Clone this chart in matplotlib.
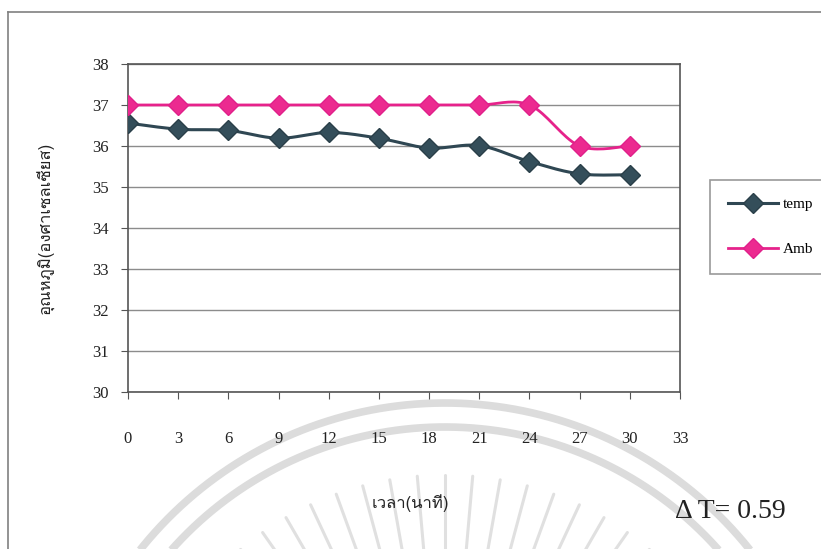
import numpy as np
import matplotlib
matplotlib.use("Agg")
import matplotlib.pyplot as plt
from matplotlib import font_manager
from matplotlib.lines import Line2D

minutes = [0, 3, 6, 9, 12, 15, 18, 21, 24, 27, 30]
temp = [36.56, 36.41, 36.38, 36.19, 36.33, 36.19, 35.95, 36.01, 35.62, 35.32, 35.30]
amb = [37.0, 37.0, 37.0, 37.0, 37.0, 37.0, 37.0, 37.0, 37.0, 36.0, 36.0]
x_ticks = list(range(0, 34, 3))
y_ticks = list(range(30, 39))
delta_t = 0.59

SERIF = "Liberation Serif"

# find something that can render Thai
thai_font = None
for f in font_manager.fontManager.ttflist:
    if "Thai" in f.name or "Loma" in f.name or "Garuda" in f.name or "Sarabun" in f.name:
        thai_font = f.name
        break
thai_family = [thai_font, SERIF] if thai_font else [SERIF, "DejaVu Sans"]


def smooth(xs, ys, n=20):
    # bezier smoothing like a spreadsheet "smoothed line"
    xs = np.asarray(xs, float)
    ys = np.asarray(ys, float)
    px = np.concatenate([[xs[0]], xs, [xs[-1]]])
    py = np.concatenate([[ys[0]], ys, [ys[-1]]])
    outx, outy = [], []
    t = np.linspace(0, 1, n)
    for i in range(1, len(px) - 2):
        p0 = np.array([px[i], py[i]])
        p3 = np.array([px[i + 1], py[i + 1]])
        c1 = p0 + (np.array([px[i + 1], py[i + 1]]) - np.array([px[i - 1], py[i - 1]])) / 6
        c2 = p3 - (np.array([px[i + 2], py[i + 2]]) - np.array([px[i], py[i]])) / 6
        b = ((1 - t) ** 3)[:, None] * p0 + (3 * (1 - t) ** 2 * t)[:, None] * c1 \
            + (3 * (1 - t) * t ** 2)[:, None] * c2 + (t ** 3)[:, None] * p3
        outx.extend(b[:, 0])
        outy.extend(b[:, 1])
    return outx, outy


W, H = 821, 549
fig = plt.figure(figsize=(W / 100, H / 100), dpi=100)
fig.patch.set_facecolor("white")

# faint seal in the background
wm = fig.add_axes([0, 0, 1, 1], zorder=0)
wm.set_xlim(0, W)
wm.set_ylim(H, 0)
wm.axis("off")
cx, cy = 445, 793
th = np.linspace(np.pi * 0.95, np.pi * 2.05, 300)
for r in (390, 366):
    wm.plot(cx + r * np.cos(th), cy + r * np.sin(th), color="#dcdcdc", lw=5.5, solid_capstyle="butt")
for a in np.linspace(np.radians(-150), np.radians(-30), 25):
    r0, r1 = 220, 318
    wm.plot([cx + r0 * np.cos(a), cx + r1 * np.cos(a)],
            [cy + r0 * np.sin(a), cy + r1 * np.sin(a)],
            color="#e0e0e0", lw=2.2, solid_capstyle="round")
# chart frame
wm.plot([8, W + 5], [12, 12], color="#808080", lw=1.2)
wm.plot([8, 8], [12, H + 5], color="#808080", lw=1.2)

ax = fig.add_axes([128 / W, 1 - 392 / H, (680 - 128) / W, (392 - 64) / H], zorder=2)
ax.set_facecolor("white")

tx, ty = smooth(minutes, temp)
ax.plot(tx, ty, color="#2f4753", lw=2.2, zorder=3)
ax.plot(minutes, temp, ls="none", marker="D", ms=10, color="#344e5a",
        markeredgecolor="#2a3f49", zorder=4)
axx, axy = smooth(minutes, amb)
ax.plot(axx, axy, color="#e6228b", lw=2.0, zorder=3)
ax.plot(minutes, amb, ls="none", marker="D", ms=10, color="#ec2a90",
        markeredgecolor="#e0208a", zorder=4)

ax.set_xlim(0, 33)
ax.set_ylim(30, 38)
ax.set_xticks(x_ticks)
ax.set_yticks(y_ticks)
ax.grid(axis="y", color="#8c8c8c", lw=1.0)
ax.set_axisbelow(True)
for s in ax.spines.values():
    s.set_color("#555555")
    s.set_linewidth(1.2)
ax.tick_params(axis="both", direction="out", length=5, color="#555555",
               labelsize=12, labelcolor="#222222")
ax.tick_params(axis="x", pad=23)
ax.tick_params(axis="y", pad=9)
for lab in ax.get_xticklabels() + ax.get_yticklabels():
    lab.set_family(SERIF)

fig.text(410 / W, 1 - 503 / H, "เวลา(นาที)", family=thai_family, fontsize=12,
         ha="center", va="center", color="#222222")
fig.text(46 / W, 1 - 228 / H, "อุณหภูมิ(องศาเซลเซียส)", family=thai_family,
         fontsize=12, rotation=90, ha="center", va="center", color="#222222")
fig.text(675 / W, 1 - 512 / H, "Δ T= %.2f" % delta_t, family=SERIF, fontsize=20,
         ha="left", va="center", color="#222222")

handles = [
    Line2D([], [], color="#2f4753", lw=2.2, marker="D", ms=10, markerfacecolor="#344e5a",
           markeredgecolor="#2a3f49"),
    Line2D([], [], color="#e6228b", lw=2.0, marker="D", ms=10, markerfacecolor="#ec2a90",
           markeredgecolor="#e0208a"),
]
leg = fig.legend(handles, ["temp", "Amb"], loc="upper left",
                 bbox_to_anchor=(710 / W, 1 - 180 / H), borderaxespad=0, frameon=True,
                 fancybox=False, handlelength=3.3, labelspacing=2.05, borderpad=1.15,
                 handletextpad=0.3, prop={"family": SERIF, "size": 11})
leg.get_frame().set_edgecolor("#808080")
leg.get_frame().set_linewidth(1.2)

fig.savefig("out.png", dpi=100, facecolor="white")
